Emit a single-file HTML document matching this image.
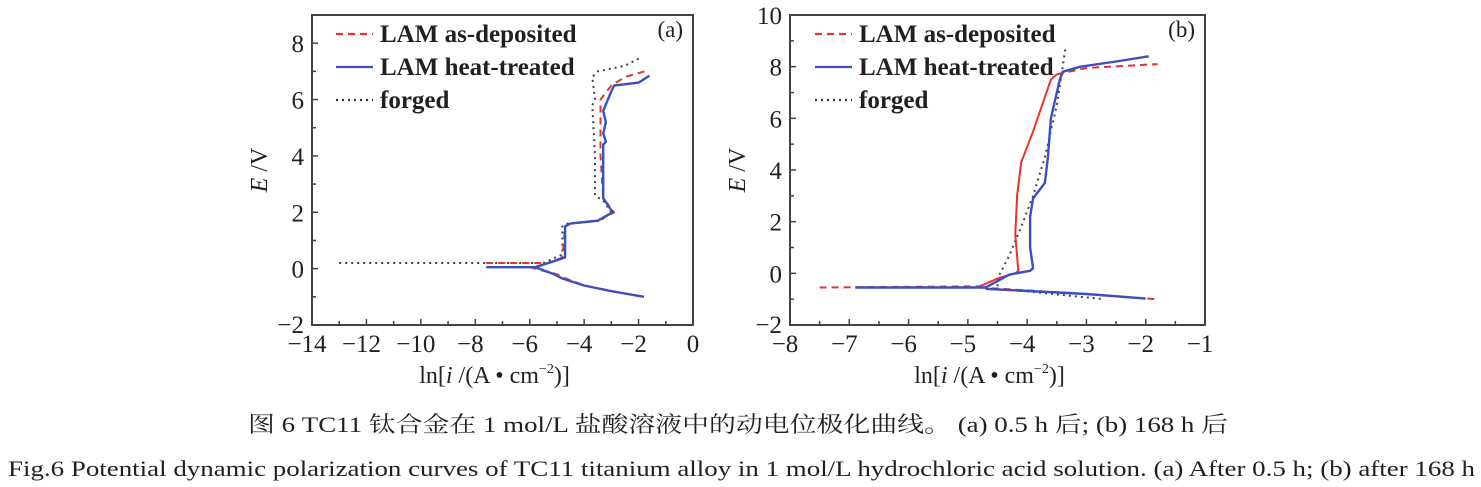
<!DOCTYPE html>
<html><head><meta charset="utf-8"><style>
html,body{margin:0;padding:0;background:#fff;}
svg{display:block;}
text{font-family:"Liberation Serif","Noto Serif CJK SC",serif;fill:#231f20;}
</style></head><body>
<svg id="s" width="1481" height="487" viewBox="0 0 1481 487" xmlns="http://www.w3.org/2000/svg">
<g id="ga"></g><g id="gb"></g>
<text x="248" y="432" font-size="22" textLength="980" lengthAdjust="spacingAndGlyphs" style="font-family:'Liberation Serif','Noto Serif CJK SC',serif">图 6  TC11 钛合金在 1 mol/L 盐酸溶液中的动电位极化曲线。 (a) 0.5 h 后; (b) 168 h 后</text>
<text x="8" y="476" font-size="22" textLength="1467" lengthAdjust="spacingAndGlyphs" style="font-family:'Liberation Serif',serif">Fig.6  Potential dynamic polarization curves of TC11 titanium alloy in 1 mol/L hydrochloric acid solution. (a) After 0.5 h; (b) after 168 h</text>
</svg>
<script>
var NS="http://www.w3.org/2000/svg";
function el(g,t,a,txt){var e=document.createElementNS(NS,t);for(var k in a)e.setAttribute(k,a[k]);if(txt!==undefined)e.textContent=txt;g.appendChild(e);return e;}
function panel(g,P){
 var X=function(v){return P.x0+(v-P.xmin)*(P.x1-P.x0)/(P.xmax-P.xmin);};
 var Y=function(v){return P.y1-(v-P.ymin)*(P.y1-P.y0)/(P.ymax-P.ymin);};
 el(g,'rect',{x:P.x0,y:P.y0,width:P.x1-P.x0,height:P.y1-P.y0,fill:'none',stroke:'#4a4040','stroke-width':2});
 for(var v=P.xmin;v<=P.xmax+1e-9;v+=P.xminor){var maj=Math.abs((v-P.xmin)/P.xstep-Math.round((v-P.xmin)/P.xstep))<1e-6;
  el(g,'line',{x1:X(v),x2:X(v),y1:P.y1,y2:P.y1-(maj?6:4),stroke:'#4a4040','stroke-width':1.5});
  if(maj)el(g,'text',{x:X(v)+(v<0?-5:0),y:P.y1+27,'font-size':25,'text-anchor':'middle'},(v<0?'\u2212':'')+Math.abs(Math.round(v)));}
 for(var v=P.ymin;v<=P.ymax+1e-9;v+=P.yminor){var maj=Math.abs((v-P.ymin)/P.ystep-Math.round((v-P.ymin)/P.ystep))<1e-6;
  el(g,'line',{x1:P.x0,x2:P.x0+(maj?6:4),y1:Y(v),y2:Y(v),stroke:'#4a4040','stroke-width':1.5});
  if(maj)el(g,'text',{x:P.x0-8,y:Y(v)+(v==P.ymin?8:9),'font-size':25,'text-anchor':'end'},(v<0?'\u2212':'')+Math.abs(Math.round(v)));}
 var t=el(g,'text',{x:(P.x0+P.x1)/2-8,y:383,'font-size':24,'text-anchor':'middle'});
 t.innerHTML='ln[<tspan font-style="italic">i</tspan> /(A • cm<tspan font-size="14" dy="-10">−2</tspan><tspan dy="10">)]</tspan>';
 var yt=el(g,'text',{transform:'translate('+(P.x0-45)+','+((P.y0+P.y1)/2)+') rotate(-90)','font-size':24,'text-anchor':'middle'});
 yt.innerHTML='<tspan font-style="italic">E</tspan> /V';
 el(g,'text',{x:P.x1-10,y:P.y0+22,'font-size':23,'text-anchor':'end'},P.lab);
 var L=[['#e8322c','7,5','LAM as-deposited'],['#3a4fc0','','LAM heat-treated'],['#333','2,4','forged']];
 L.forEach(function(l,i){var y=P.y0+19+i*33;
  el(g,'line',{x1:P.lx,x2:P.lx+37,y1:y,y2:y,stroke:l[0],'stroke-width':2.2,'stroke-dasharray':l[1]});
  el(g,'text',{x:P.lx+44,y:y+8,'font-size':25,'font-weight':'bold'},l[2]);});
 P.series.forEach(function(s){var d=s.p.map(function(q,i){return (i?'L':'M')+X(q[0]).toFixed(1)+','+Y(q[1]).toFixed(1);}).join('');
  el(g,'path',{d:d,fill:'none',stroke:s.c,'stroke-width':s.w||2,'stroke-dasharray':s.d||'','stroke-linejoin':'round'});});
}
var R='#e8322c',B='#3a4fc0',K='#444';
panel(document.getElementById('ga'),{x0:312,x1:693,y0:15,y1:325,xmin:-14,xmax:0,ymin:-2,ymax:9,xstep:2,xminor:1,ystep:2,yminor:1,lab:'(a)',lx:336,
series:[
{c:K,d:'2,4',p:[[-13,0.2],[-5.5,0.2],[-4.8,0.5],[-4.8,1.5],[-4.6,1.6],[-3.4,1.7],[-3.0,2.0],[-3.3,2.4],[-3.6,2.6],[-3.6,4],[-3.7,5.8],[-3.6,6.0],[-3.7,6.8],[-3.5,7.0],[-2.5,7.2],[-1.9,7.5]]},
{c:R,d:'7,5',p:[[-7.6,0.2],[-5.3,0.2],[-4.8,0.4],[-4.7,1.5],[-4.5,1.6],[-3.5,1.7],[-2.9,2.0],[-3.3,2.5],[-3.4,4],[-3.4,6.0],[-3.0,6.5],[-2.5,6.8],[-1.6,7.05]]},
{c:R,d:'7,5',p:[[-6,0.05],[-5,-0.2],[-4.8,-0.3],[-4,-0.6],[-3,-0.8],[-1.8,-1.0]]},
{c:B,w:2.4,p:[[-7.6,0.05],[-5.8,0.05],[-5.0,0.3],[-4.7,0.4],[-4.7,1.5],[-4.5,1.6],[-3.5,1.7],[-2.95,2.0],[-3.3,2.5],[-3.3,4.4],[-3.2,4.5],[-3.3,4.8],[-3.2,5.2],[-3.3,5.6],[-3.0,6.3],[-2.9,6.5],[-2,6.6],[-1.6,6.85]]},
{c:B,w:2.4,p:[[-5.8,0.05],[-5.1,-0.2],[-4.8,-0.35],[-4,-0.6],[-3,-0.8],[-1.8,-1.0]]}
]});
panel(document.getElementById('gb'),{x0:790,x1:1205,y0:15,y1:325,xmin:-8,xmax:-1,ymin:-2,ymax:10,xstep:1,xminor:0.5,ystep:2,yminor:1,lab:'(b)',lx:815,
series:[
{c:K,d:'2,4',p:[[-4.5,-0.5],[-4.5,-0.2],[-4.3,0.7],[-4.1,1.8],[-3.9,3],[-3.7,4.5],[-3.5,6.5],[-3.4,8],[-3.35,8.8]]},
{c:K,d:'2,4',p:[[-4,-0.7],[-2.7,-1.0]]},
{c:R,d:'7,5',p:[[-7.5,-0.55],[-4.8,-0.5]]},
{c:R,p:[[-4.8,-0.5],[-4.5,-0.2],[-4.2,0],[-4.15,0.1],[-4.2,1.5],[-4.17,3],[-4.1,4.3],[-3.9,5.5],[-3.6,7.5],[-3.5,7.7]]},
{c:R,d:'7,5',p:[[-3.5,7.7],[-3.3,7.8],[-3,7.95],[-1.8,8.1]]},
{c:R,d:'7,5',p:[[-4.8,-0.55],[-3,-0.8],[-1.8,-1.0]]},
{c:B,w:2.4,p:[[-6.9,-0.55],[-4.7,-0.55],[-4.5,-0.3],[-4.3,-0.05],[-3.95,0.1],[-3.9,0.2],[-3.95,1],[-3.95,2.2],[-3.9,2.9],[-3.7,3.5],[-3.65,4.5],[-3.6,6],[-3.45,7.5],[-3.4,7.8],[-3.1,8],[-2.5,8.2],[-1.95,8.4]]},
{c:B,w:2.4,p:[[-4.7,-0.6],[-3,-0.8],[-2,-0.98]]}
]});
</script>
</body></html>
